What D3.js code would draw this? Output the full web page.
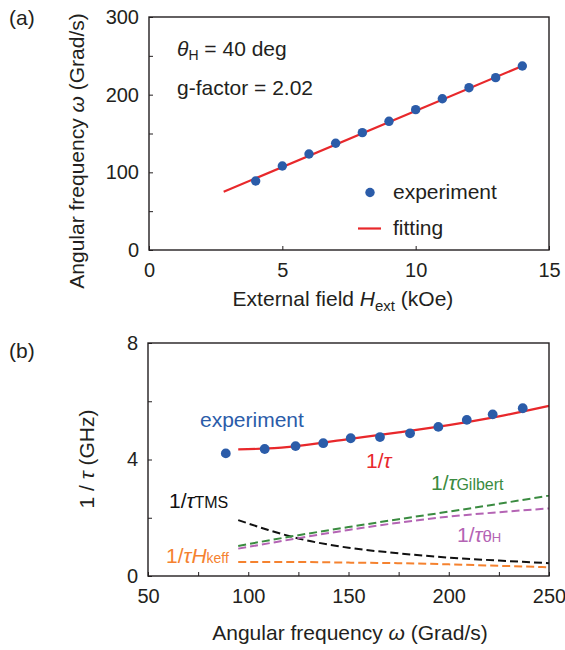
<!DOCTYPE html>
<html>
<head>
<meta charset="utf-8">
<script src="https://cdn.jsdelivr.net/npm/d3@7"></script>
<style>
  html, body { margin: 0; padding: 0; background: #fff; }
  svg { display: block; font-family: "Liberation Sans", Arial, Helvetica, sans-serif; }
  text { fill: #231f20; }
</style>
</head>
<body>
<svg id="fig" width="565" height="650"></svg>
<script>
// ---- panel (a): resonance frequency vs external field ----
const fieldKOe   = [4, 5, 6, 7, 8, 9, 10, 11, 12, 13, 14];
const omegaExp   = [88.8, 108.2, 123.6, 137.4, 151.1, 165.7, 180.7, 194.8, 209.0, 221.9, 236.9];
const fitField   = [2.8, 14.0];
const fitOmega   = [75.0, 237.0];
const xTicksA    = [0, 5, 10, 15];
const yTicksA    = [0, 50, 100, 150, 200, 250, 300];
const yLabelsA   = [0, 100, 200, 300];

// ---- panel (b): relaxation rate vs angular frequency ----
const invTauExp    = [4.21, 4.36, 4.46, 4.56, 4.73, 4.77, 4.90, 5.12, 5.36, 5.55, 5.76];
const omegaModel   = [95, 110, 125, 150, 175, 200, 225, 250];
const invTauTotal  = [4.35, 4.38, 4.47, 4.70, 4.93, 5.18, 5.48, 5.84];
const invTauGilb   = [1.03, 1.22, 1.40, 1.68, 1.95, 2.21, 2.48, 2.76];
const invTauTheta  = [0.94, 1.12, 1.30, 1.58, 1.83, 2.04, 2.19, 2.32];
const invTauTMS    = [1.92, 1.58, 1.29, 0.97, 0.78, 0.63, 0.53, 0.44];
const invTauHkeff  = [0.48, 0.48, 0.48, 0.46, 0.44, 0.40, 0.35, 0.30];
const xTicksB      = [50, 75, 100, 125, 150, 175, 200, 225, 250];
const xLabelsB     = [50, 100, 150, 200, 250];
const yTicksB      = [0, 2, 4, 6, 8];
const yLabelsB     = [0, 4, 8];

const C = {
  blue: "#2b5ca9", red: "#e8282b", green: "#3a8b40",
  purple: "#b464b4", orange: "#f5822f", black: "#111"
};
const FS = 21;

const svg = d3.select("#fig");

function frame(g, x, y) {
  g.append("rect")
    .attr("x", x.range()[0]).attr("y", y.range()[1])
    .attr("width", x.range()[1] - x.range()[0])
    .attr("height", y.range()[0] - y.range()[1])
    .attr("fill", "none").attr("stroke", "#231f20").attr("stroke-width", 1.4);
}

function axes(g, x, y, xt, xl, yt, yl) {
  const ax = g.append("g").attr("transform", `translate(0,${y.range()[0]})`)
    .call(d3.axisBottom(x).tickValues(xt).tickSize(-4).tickPadding(13)
      .tickFormat(d => xl.includes(d) ? d : ""));
  const ay = g.append("g").attr("transform", `translate(${x.range()[0]},0)`)
    .call(d3.axisLeft(y).tickValues(yt).tickSize(-4).tickPadding(10)
      .tickFormat(d => yl.includes(d) ? d : ""));
  [ax, ay].forEach(a => {
    a.select(".domain").remove();
    a.selectAll("line").attr("stroke", "#231f20").attr("stroke-width", 1);
    a.selectAll("text").attr("font-size", 20).attr("fill", "#231f20")
      .attr("font-family", "'Liberation Sans', Arial, sans-serif");
  });
}

// ================= panel (a) =================
const xA = d3.scaleLinear().domain([0, 15]).range([149, 549]);
const yA = d3.scaleLinear().domain([0, 300]).range([250, 17]);
const gA = svg.append("g");

axes(gA, xA, yA, xTicksA, xTicksA, yTicksA, yLabelsA);
frame(gA, xA, yA);

const fitLine = d3.line().x(d => xA(d[0])).y(d => yA(d[1]));
gA.append("path")
  .datum(d3.zip(fitField, fitOmega))
  .attr("d", fitLine).attr("fill", "none")
  .attr("stroke", C.red).attr("stroke-width", 2.2);

gA.selectAll("circle.exp").data(d3.zip(fieldKOe, omegaExp)).join("circle")
  .attr("class", "exp")
  .attr("cx", d => xA(d[0])).attr("cy", d => yA(d[1])).attr("r", 4.7)
  .attr("fill", C.blue);

// annotations
const t1 = gA.append("text").attr("x", 177).attr("y", 56).attr("font-size", FS);
t1.append("tspan").attr("font-style", "italic").text("θ");
t1.append("tspan").attr("font-size", 14).attr("dy", 4).text("H");
t1.append("tspan").attr("dy", -4).text(" = 40 deg");
gA.append("text").attr("x", 177).attr("y", 95).attr("font-size", FS).text("g-factor = 2.02");

// legend
gA.append("circle").attr("cx", 370).attr("cy", 192.5).attr("r", 4.7).attr("fill", C.blue);
gA.append("text").attr("x", 393).attr("y", 199).attr("font-size", FS).text("experiment");
gA.append("line").attr("x1", 358).attr("x2", 381).attr("y1", 228.5).attr("y2", 228.5)
  .attr("stroke", C.red).attr("stroke-width", 2.2);
gA.append("text").attr("x", 393).attr("y", 235).attr("font-size", FS).text("fitting");

// axis titles
const xtA = gA.append("text").attr("x", 343).attr("y", 306).attr("text-anchor", "middle").attr("font-size", FS);
xtA.append("tspan").text("External field ");
xtA.append("tspan").attr("font-style", "italic").text("H");
xtA.append("tspan").attr("font-size", 15).attr("dy", 5).text("ext");
xtA.append("tspan").attr("dy", -5).text(" (kOe)");

const ytA = gA.append("text").attr("transform", "translate(84,151) rotate(-90)")
  .attr("text-anchor", "middle").attr("font-size", FS);
ytA.append("tspan").text("Angular frequency ");
ytA.append("tspan").attr("font-style", "italic").text("ω");
ytA.append("tspan").text(" (Grad/s)");

svg.append("text").attr("x", 9).attr("y", 25).attr("font-size", FS).text("(a)");

// ================= panel (b) =================
const xB = d3.scaleLinear().domain([50, 250]).range([148, 549]);
const yB = d3.scaleLinear().domain([0, 8]).range([576, 343]);
const gB = svg.append("g");

axes(gB, xB, yB, xTicksB, xLabelsB, yTicksB, yLabelsB);

const curve = d3.line().x(d => xB(d[0])).y(d => yB(d[1])).curve(d3.curveMonotoneX);
const dashed = [
  [invTauHkeff, C.orange],
  [invTauTMS, C.black],
  [invTauTheta, C.purple],
  [invTauGilb, C.green]
];
dashed.forEach(([vals, col]) => {
  gB.append("path").datum(d3.zip(omegaModel, vals)).attr("d", curve)
    .attr("fill", "none").attr("stroke", col).attr("stroke-width", 2)
    .attr("stroke-dasharray", "8,4");
});
gB.append("path").datum(d3.zip(omegaModel, invTauTotal)).attr("d", curve)
  .attr("fill", "none").attr("stroke", C.red).attr("stroke-width", 2.2);

gB.selectAll("circle.exp").data(d3.zip(omegaExp, invTauExp)).join("circle")
  .attr("class", "exp")
  .attr("cx", d => xB(d[0])).attr("cy", d => yB(d[1])).attr("r", 4.9)
  .attr("fill", C.blue);

frame(gB, xB, yB);

// curve labels
gB.append("text").attr("x", 200).attr("y", 427).attr("font-size", FS)
  .style("fill", C.blue).text("experiment");

function rateLabel(x, y, col, parts) {
  const t = gB.append("text").attr("x", x).attr("y", y).attr("font-size", FS).style("fill", col);
  t.append("tspan").text("1/");
  t.append("tspan").attr("font-style", "italic").text("τ");
  parts.forEach(p => {
    const s = t.append("tspan").style("fill", col).text(p.text);
    if (p.size) s.attr("font-size", p.size);
    if (p.italic) s.attr("font-style", "italic");
    if (p.dy) s.attr("dy", p.dy);
  });
}
rateLabel(366, 468, C.red, []);
rateLabel(431, 490, C.green, [{ text: "Gilbert", size: 16 }]);
rateLabel(169, 508, C.black, [{ text: "TMS", size: 16 }]);
rateLabel(457, 542, C.purple, [{ text: "θ", size: 17 }, { text: "H", size: 13 }]);
rateLabel(166, 563, C.orange, [{ text: "H", italic: true }, { text: "keff", size: 14 }]);

// axis titles
const xtB = gB.append("text").attr("x", 350).attr("y", 640).attr("text-anchor", "middle").attr("font-size", FS);
xtB.append("tspan").text("Angular frequency ");
xtB.append("tspan").attr("font-style", "italic").text("ω");
xtB.append("tspan").text(" (Grad/s)");

const ytB = gB.append("text").attr("transform", "translate(94,459) rotate(-90)")
  .attr("text-anchor", "middle").attr("font-size", FS);
ytB.append("tspan").text("1 / ");
ytB.append("tspan").attr("font-style", "italic").text("τ");
ytB.append("tspan").text(" (GHz)");

svg.append("text").attr("x", 9).attr("y", 358).attr("font-size", FS).text("(b)");
</script>
</body>
</html>
